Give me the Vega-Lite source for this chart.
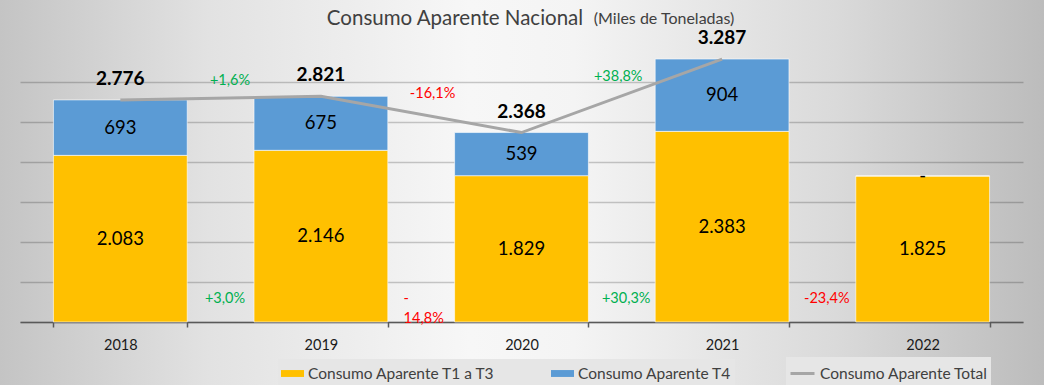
{
  "$schema": "https://vega.github.io/schema/vega-lite/v6.json",
  "width": 1044,
  "height": 385,
  "autosize": {"type": "none"},
  "padding": 0,
  "background": "#d2d2d2",
  "view": {
    "stroke": null,
    "fill": {
      "gradient": "linear", "x1": 0, "y1": 0, "x2": 1, "y2": 0,
      "stops": [
        {"offset": 0, "color": "#c4c4c4"},
        {"offset": 0.2, "color": "#e2e2e2"},
        {"offset": 0.45, "color": "#f7f7f7"},
        {"offset": 0.55, "color": "#f4f4f4"},
        {"offset": 0.8, "color": "#dadada"},
        {"offset": 1, "color": "#bcbcbc"}
      ]
    }
  },
  "title": {
    "text": "Consumo Aparente Nacional",
    "anchor": "middle",
    "frame": "group",
    "dx": -67,
    "offset": -29,
    "fontSize": 20.5,
    "fontWeight": "normal",
    "color": "#404040",
    "font": "Lato"
  },
  "datasets": {
    "seg": [
      {"year": "2018", "serie": "Consumo Aparente T1 a T3", "valor": 2083},
      {"year": "2018", "serie": "Consumo Aparente T4", "valor": 693},
      {"year": "2019", "serie": "Consumo Aparente T1 a T3", "valor": 2146},
      {"year": "2019", "serie": "Consumo Aparente T4", "valor": 675},
      {"year": "2020", "serie": "Consumo Aparente T1 a T3", "valor": 1829},
      {"year": "2020", "serie": "Consumo Aparente T4", "valor": 539},
      {"year": "2021", "serie": "Consumo Aparente T1 a T3", "valor": 2383},
      {"year": "2021", "serie": "Consumo Aparente T4", "valor": 904},
      {"year": "2022", "serie": "Consumo Aparente T1 a T3", "valor": 1825},
      {"year": "2022", "serie": "Consumo Aparente T4", "valor": 0}
    ],
    "tot": [
      {"year": "2018", "total": 2776},
      {"year": "2019", "total": 2821},
      {"year": "2020", "total": 2368},
      {"year": "2021", "total": 3287}
    ],
    "pct": [
      {"year": "2019", "cambio_total": 0.016, "cambio_t13": 0.030},
      {"year": "2020", "cambio_total": -0.161, "cambio_t13": -0.148},
      {"year": "2021", "cambio_total": 0.388, "cambio_t13": 0.303},
      {"year": "2022", "cambio_total": null, "cambio_t13": -0.234}
    ]
  },
  "layer": [
    {
      "data": {"name": "seg"},
      "mark": {"type": "bar", "stroke": "#ffffff", "strokeWidth": 1, "strokeOpacity": 0.6},
      "encoding": {
        "x": {
          "field": "year", "type": "ordinal",
          "scale": {"range": [20, 1023], "paddingInner": 0.333, "paddingOuter": 0.1667},
          "axis": {
            "title": null, "offset": -63, "tickBand": "extent",
            "domainColor": "#595959", "domainWidth": 1.5,
            "tickColor": "#595959", "tickWidth": 1.5, "tickSize": 5,
            "labelFontSize": 14.5, "labelColor": "#1a1a1a", "labelPadding": 11,
            "labelAngle": 0, "grid": false
          }
        },
        "y": {
          "field": "valor", "type": "quantitative", "stack": "zero",
          "scale": {"domain": [0, 3750], "range": [322, 22], "nice": false},
          "axis": {
            "title": null, "labels": false, "ticks": false, "domain": false, "grid": true,
            "values": [0, 500, 1000, 1500, 2000, 2500, 3000],
            "gridColor": "#000000", "gridOpacity": 0.2, "gridWidth": 1.5
          }
        },
        "order": {"field": "serie", "type": "nominal", "sort": "ascending"},
        "color": {
          "field": "serie", "type": "nominal",
          "scale": {
            "domain": ["Consumo Aparente T1 a T3", "Consumo Aparente T4"],
            "range": ["#ffc000", "#5b9bd5"]
          },
          "legend": {
            "title": null, "orient": "none", "legendX": 278, "legendY": 359,
            "direction": "horizontal", "labelFontSize": 15.5, "labelColor": "#404040",
            "labelOffset": 4, "labelLimit": 0, "columnPadding": 56,
            "symbolType": "M-1,-0.3H1V0.3H-1Z", "symbolSize": 529, "symbolStrokeWidth": 0,
            "padding": 3, "fillColor": "#e6e6e6"
          }
        }
      }
    },
    {
      "data": {"name": "seg"},
      "mark": {"type": "text", "fontSize": 18.5, "color": "#000000", "baseline": "middle"},
      "encoding": {
        "x": {"field": "year", "type": "ordinal"},
        "y": {
          "field": "valor", "type": "quantitative", "stack": "zero", "bandPosition": 0.5
        },
        "detail": {"field": "serie", "type": "nominal"},
        "order": {"field": "serie", "type": "nominal", "sort": "ascending"},
        "text": {
          "condition": {"test": "datum.valor === 0", "value": "-"},
          "field": "valor", "type": "quantitative", "format": ",d"
        }
      }
    },
    {
      "data": {"name": "tot"},
      "mark": {"type": "line", "strokeWidth": 3},
      "encoding": {
        "x": {"field": "year", "type": "ordinal"},
        "y": {"field": "total", "type": "quantitative"},
        "stroke": {
          "datum": "Consumo Aparente Total", "type": "nominal",
          "scale": {"domain": ["Consumo Aparente Total"], "range": ["#a6a6a6"]},
          "legend": {
            "title": null, "orient": "none", "legendX": 786, "legendY": 357,
            "direction": "horizontal", "labelFontSize": 15.5, "labelColor": "#404040",
            "labelOffset": 4, "labelLimit": 0,
            "symbolType": "stroke", "symbolSize": 576, "symbolStrokeWidth": 3,
            "padding": 3, "fillColor": "#e6e6e6"
          }
        }
      }
    },
    {
      "data": {"name": "tot"},
      "mark": {"type": "text", "fontSize": 19, "fontWeight": "bold", "dy": -21, "baseline": "middle", "color": "#000000"},
      "encoding": {
        "x": {"field": "year", "type": "ordinal"},
        "y": {"field": "total", "type": "quantitative"},
        "text": {"field": "total", "type": "quantitative", "format": ",d"}
      }
    },
    {
      "data": {"name": "pct"},
      "transform": [{"filter": {"field": "year", "oneOf": ["2019"]}}],
      "mark": {"type": "text", "fontSize": 14.5, "baseline": "middle", "dx": -24},
      "encoding": {
        "x": {"field": "year", "type": "ordinal", "bandPosition": 0},
        "y": {"datum": 3012, "type": "quantitative"},
        "text": {"field": "cambio_total", "type": "quantitative", "format": "+.1%"},
        "color": {"condition": {"test": "datum.cambio_total < 0", "value": "#ff0000"}, "value": "#00b050"}
      }
    },
    {
      "data": {"name": "pct"},
      "transform": [{"filter": {"field": "year", "oneOf": ["2020"]}}],
      "mark": {"type": "text", "fontSize": 14.5, "baseline": "middle", "dx": -22},
      "encoding": {
        "x": {"field": "year", "type": "ordinal", "bandPosition": 0},
        "y": {"datum": 2850, "type": "quantitative"},
        "text": {"field": "cambio_total", "type": "quantitative", "format": "+.1%"},
        "color": {"condition": {"test": "datum.cambio_total < 0", "value": "#ff0000"}, "value": "#00b050"}
      }
    },
    {
      "data": {"name": "pct"},
      "transform": [{"filter": {"field": "year", "oneOf": ["2021"]}}],
      "mark": {"type": "text", "fontSize": 14.5, "baseline": "middle", "dx": -37},
      "encoding": {
        "x": {"field": "year", "type": "ordinal", "bandPosition": 0},
        "y": {"datum": 3058, "type": "quantitative"},
        "text": {"field": "cambio_total", "type": "quantitative", "format": "+.1%"},
        "color": {"condition": {"test": "datum.cambio_total < 0", "value": "#ff0000"}, "value": "#00b050"}
      }
    },
    {
      "data": {"name": "pct"},
      "transform": [{"filter": {"field": "year", "oneOf": ["2019", "2021", "2022"]}}],
      "mark": {"type": "text", "fontSize": 14.5, "baseline": "middle", "dx": -29},
      "encoding": {
        "x": {"field": "year", "type": "ordinal", "bandPosition": 0},
        "y": {"datum": 287, "type": "quantitative"},
        "text": {"field": "cambio_t13", "type": "quantitative", "format": "+.1%"},
        "color": {"condition": {"test": "datum.cambio_t13 < 0", "value": "#ff0000"}, "value": "#00b050"}
      }
    },
    {
      "data": {"name": "pct"},
      "transform": [{"filter": {"field": "year", "oneOf": ["2020"]}}],
      "mark": {"type": "text", "fontSize": 14.5, "baseline": "middle", "align": "left", "dx": -51, "lineHeight": 20, "color": "#ff0000"},
      "encoding": {
        "x": {"field": "year", "type": "ordinal", "bandPosition": 0},
        "y": {"datum": 287, "type": "quantitative"},
        "text": {"value": ["-", "14,8%"]}
      }
    },
    {
      "data": {"values": [{"unidad": "(Miles de Toneladas)"}]},
      "mark": {"type": "text", "fontSize": 16, "baseline": "alphabetic", "dx": -58, "color": "#404040"},
      "encoding": {
        "x": {"datum": "2021", "type": "ordinal"},
        "y": {"datum": 3725, "type": "quantitative"},
        "text": {"field": "unidad", "type": "nominal"}
      }
    }
  ],
  "config": {
    "font": "Lato",
    "locale": {
      "number": {"decimal": ",", "thousands": ".", "grouping": [3], "currency": ["", " €"], "minus": "-"}
    },
    "axis": {"labelFont": "Lato"},
    "legend": {"labelFont": "Lato"}
  }
}
